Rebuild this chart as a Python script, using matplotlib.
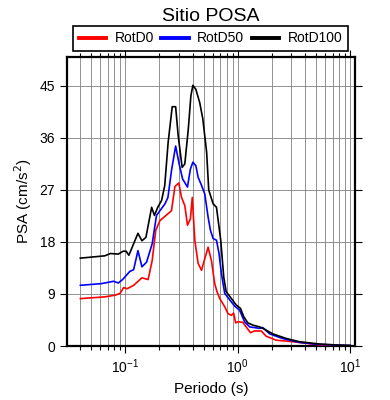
import matplotlib
matplotlib.use('Agg')
import matplotlib.pyplot as plt
from matplotlib.ticker import LogLocator, NullFormatter, FixedLocator

plt.rcParams['font.family'] = ['Liberation Sans', 'DejaVu Sans']

# RotD100 (negro)
t_d100 = [0.04, 0.066, 0.074, 0.087, 0.096, 0.102, 0.108, 0.13, 0.141, 0.153,
          0.172, 0.182, 0.195, 0.211, 0.225, 0.241, 0.262, 0.281, 0.296, 0.321,
          0.339, 0.364, 0.384, 0.40, 0.425, 0.46, 0.49, 0.53, 0.553, 0.605,
          0.648, 0.707, 0.752, 0.79, 0.88, 0.97, 1.06, 1.13, 1.23, 1.37,
          1.57, 1.73, 2.05, 2.7, 3.54, 5.3, 8.5, 10.0]
psa_d100 = [15.2, 15.6, 16.0, 15.9, 16.4, 16.4, 15.7, 19.5, 18.2, 18.8,
            24.0, 22.6, 24.0, 25.2, 27.8, 35.2, 41.4, 41.4, 36.4, 30.9,
            31.5, 37.5, 43.3, 45.1, 44.4, 42.1, 39.3, 33.5, 27.0, 24.6,
            24.0, 18.3, 11.9, 9.4, 8.2, 7.1, 6.5, 5.1, 4.0, 3.6,
            3.3, 2.9, 2.1, 1.3, 0.74, 0.35, 0.12, 0.1]

# RotD50 (azul)
t_d50 = [0.04, 0.062, 0.079, 0.087, 0.095, 0.11, 0.119, 0.13, 0.141, 0.155,
         0.174, 0.19, 0.226, 0.24, 0.258, 0.281, 0.302, 0.324, 0.358, 0.38,
         0.40, 0.425, 0.445, 0.477, 0.51, 0.546, 0.573, 0.605, 0.648, 0.683,
         0.717, 0.767, 0.88, 0.94, 1.04, 1.15, 1.28, 1.57, 1.67, 1.92,
         2.5, 3.5, 5.3, 10.0]
psa_d50 = [10.5, 10.8, 11.2, 10.9, 11.5, 12.9, 13.2, 16.5, 13.7, 14.5,
           17.7, 22.6, 24.6, 25.7, 30.3, 34.6, 31.5, 28.9, 27.5, 30.6,
           31.8, 31.2, 29.2, 27.8, 26.3, 22.3, 20.0, 18.6, 18.3, 16.0,
           12.5, 9.1, 7.6, 6.9, 6.2, 4.2, 3.3, 3.05, 3.2, 2.1,
           1.3, 0.64, 0.26, 0.08]

# RotD0 (rojo)
t_d0 = [0.04, 0.066, 0.082, 0.09, 0.097, 0.104, 0.119, 0.141, 0.16, 0.174,
        0.187, 0.204, 0.258, 0.277, 0.30, 0.317, 0.339, 0.358, 0.38, 0.395,
        0.416, 0.445, 0.477, 0.51, 0.546, 0.584, 0.625, 0.655, 0.693, 0.767,
        0.82, 0.88, 0.92, 0.96, 1.01, 1.11, 1.19, 1.3, 1.41, 1.62,
        1.79, 2.2, 3.1, 5.3, 10.0]
psa_d0 = [8.2, 8.5, 8.8, 9.1, 10.1, 9.9, 10.5, 11.8, 11.5, 14.8,
          20.0, 21.7, 23.4, 27.6, 28.2, 25.7, 24.3, 20.9, 22.0, 25.7,
          18.3, 14.3, 13.1, 15.1, 17.1, 14.8, 10.8, 9.4, 8.2, 6.8,
          5.6, 5.3, 5.7, 4.0, 4.2, 4.1, 3.3, 2.3, 2.6, 2.6,
          1.7, 1.0, 0.74, 0.2, 0.05]

y_ticks = [0, 9, 18, 27, 36, 45]

fig = plt.figure(figsize=(3.9, 4.0), dpi=100)
ax = fig.add_axes([0.172, 0.135, 0.738, 0.7225])

ax.plot(t_d0, psa_d0, color='red', lw=1.2, label='RotD0', zorder=3)
ax.plot(t_d50, psa_d50, color='blue', lw=1.2, label='RotD50', zorder=3)
ax.plot(t_d100, psa_d100, color='black', lw=1.2, label='RotD100', zorder=3)

ax.set_xscale('log')
ax.set_xlim(0.0305, 11)
ax.set_ylim(0, 50)
ax.yaxis.set_major_locator(FixedLocator(y_ticks))
ax.xaxis.set_major_locator(LogLocator(base=10))
ax.xaxis.set_minor_locator(LogLocator(base=10, subs=range(2, 10)))
ax.xaxis.set_minor_formatter(NullFormatter())

ax.grid(True, which='both', axis='x', color='#808080', lw=0.6)
ax.grid(True, which='major', axis='y', color='#808080', lw=0.6)

ax.tick_params(which='both', direction='out', top=True, right=True,
               labelsize=10, width=0.8)
ax.tick_params(which='major', length=5)
ax.tick_params(which='minor', length=3)
for s in ax.spines.values():
    s.set_linewidth(1.6)

ax.set_xlabel('Periodo (s)', fontsize=11)
ax.set_ylabel('PSA (cm/s$^2$)', fontsize=11)
ax.set_title('Sitio POSA', fontsize=14, pad=26)

fig.legend(loc='lower left', bbox_to_anchor=(73 / 390, 1 - 51 / 400, 275 / 390, 22 / 400),
           mode='expand', ncol=3, borderaxespad=0, fancybox=False,
           edgecolor='black', framealpha=1, fontsize=10, handlelength=2.0,
           handletextpad=0.6)
leg = fig.legends[0]
leg.get_frame().set_linewidth(1.2)
for h in leg.legend_handles:
    h.set_linewidth(2.8)

plt.savefig('out.png', dpi=100)
